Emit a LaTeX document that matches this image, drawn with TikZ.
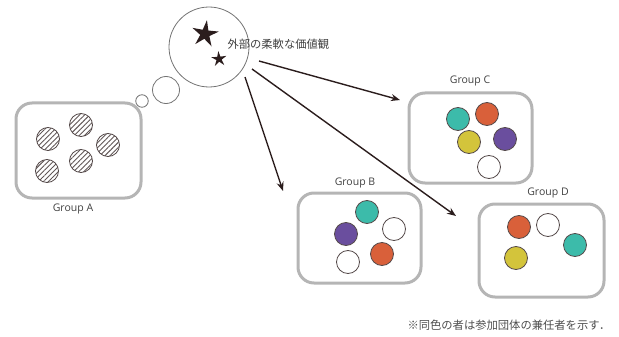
\documentclass[tikz,border=0pt]{standalone}
\usepackage{fontspec}
\setmainfont{Open Sans}
\newfontfamily\jp{Noto Sans CJK JP}
\usetikzlibrary{shapes.geometric,arrows.meta,patterns.meta}
\definecolor{boxgray}{HTML}{B5B5B5}
\definecolor{teal1}{HTML}{3CBBAA}
\definecolor{orange1}{HTML}{D9603A}
\definecolor{purple1}{HTML}{6A4E9E}
\definecolor{yellow1}{HTML}{D3C43B}
\definecolor{ink}{HTML}{2B1D1D}
\tikzset{
  groupbox/.style={draw=boxgray,line width=3pt,rounded corners=16pt},
  member/.style={circle,draw=ink!80,line width=0.8pt,minimum size=23pt,inner sep=0pt},
  hatched/.style={member,pattern={Lines[angle=45,distance=3.6pt,line width=0.9pt]},pattern color=ink!75},
  glabel/.style={font=\fontsize{10.5}{12}\selectfont,text=black!75},
  bubble/.style={circle,draw=black!55,line width=0.8pt,inner sep=0pt},
  arr/.style={-{Stealth[length=9pt,width=7pt]},line width=1.4pt,draw=ink},
  starn/.style={star,star points=5,star point ratio=2.9,fill=ink,inner sep=0pt}
}
\begin{document}
\begin{tikzpicture}[x=1pt,y=-1pt]
\useasboundingbox (0,0) rectangle (619,337);
% thought
\node[bubble,minimum size=80pt] (th) at (209,47) {};
\node[bubble,minimum size=27pt] (b1) at (166,90) {};
\node[bubble,minimum size=12.5pt] (b2) at (142,101) {};
\node[starn,minimum size=28pt,rotate=-8] (s1) at (205,34) {};
\node[starn,minimum size=16pt,rotate=5] (s2) at (219,59) {};
\node[anchor=west,font=\jp\fontsize{11.3}{13}\selectfont,text=black!75] (tt) at (224,44) {外部の柔軟な価値観};
% group A
\draw[groupbox] (16,103) rectangle (141,198);
\node[glabel] (la) at (73,209) {Group A};
\node[hatched] (a1) at (48,139) {};
\node[hatched] (a2) at (81,125) {};
\node[hatched] (a3) at (108,145) {};
\node[hatched] (a4) at (81,161) {};
\node[hatched] (a5) at (47,171) {};
% group C
\draw[groupbox] (409,93) rectangle (532,183);
\node[glabel] (lc) at (470,81) {Group C};
\node[member,fill=teal1] (c1) at (458,119) {};
\node[member,fill=orange1] (c2) at (487,114) {};
\node[member,fill=purple1] (c3) at (505,139) {};
\node[member,fill=yellow1] (c4) at (469,142) {};
\node[member,fill=white] (c5) at (489,167) {};
% group B
\draw[groupbox] (298,193) rectangle (421,283);
\node[glabel] (lb) at (355,183) {Group B};
\node[member,fill=teal1] (b1m) at (367,212) {};
\node[member,fill=white] (b2m) at (394,229) {};
\node[member,fill=purple1] (b3m) at (346,234) {};
\node[member,fill=orange1] (b4m) at (382,254) {};
\node[member,fill=white] (b5m) at (348,262) {};
% group D
\draw[groupbox] (479,204) rectangle (604,297);
\node[glabel] (ld) at (548,193) {Group D};
\node[member,fill=orange1] (d1) at (519,227) {};
\node[member,fill=white] (d2) at (548,225) {};
\node[member,fill=teal1] (d3) at (575,245) {};
\node[member,fill=yellow1] (d4) at (516,258) {};
% arrows
\coordinate (oc) at (259,61);
\coordinate (ob) at (245,77);
\coordinate (od) at (252,69);
\coordinate (tc) at (400,100);
\coordinate (tb) at (283,191);
\coordinate (td) at (456,216);
\draw[arr] (oc) -- (tc);
\draw[arr] (ob) -- (tb);
\draw[arr] (od) -- (td);
% note
\node[anchor=west,font=\jp\fontsize{11.3}{13}\selectfont,text=black!70] (note) at (404,325) {※同色の者は参加団体の兼任者を示す．};
\end{tikzpicture}
\end{document}
